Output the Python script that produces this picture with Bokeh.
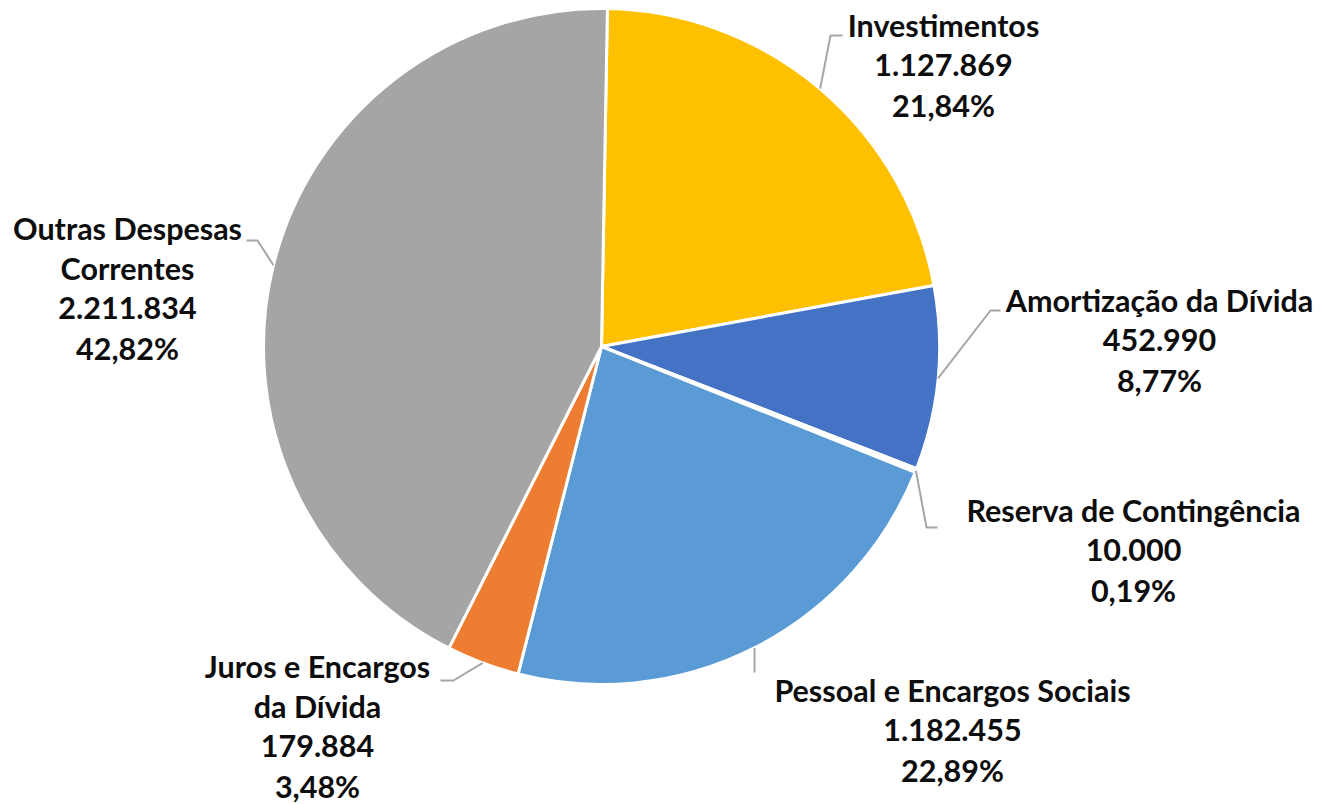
import math
from bokeh.plotting import figure
from bokeh.models import ColumnDataSource, Range1d
from bokeh.core.properties import value
from bokeh.embed import file_html
from bokeh.resources import INLINE

# ---------------- data ----------------
categories = ["Investimentos", "Amortização da Dívida", "Reserva de Contingência",
              "Pessoal e Encargos Sociais", "Juros e Encargos da Dívida",
              "Outras Despesas Correntes"]
category_lines = [["Investimentos"], ["Amortização da Dívida"], ["Reserva de Contingência"],
                  ["Pessoal e Encargos Sociais"], ["Juros e Encargos", "da Dívida"],
                  ["Outras Despesas", "Correntes"]]
values = [1127869, 452990, 10000, 1182455, 179884, 2211834]

# ---------------- style / layout ----------------
colors = ["#FFC000", "#4472C4", "#FFFFFF", "#5B9BD5", "#ED7D31", "#A5A5A5"]
W, H = 1320, 804
CX, CY, R = 601, 346, 338          # pixel-space pie centre and radius
FIRST_ANGLE = 1.0                  # degrees, clockwise from 12 o'clock
FONT = "Lato"
FONT_SIZE = "30.5px"
LINE_STEP = 40
TEXT_SHIFT = -11
# label block: (centre x, first baseline y) ; leader: elbow points in pixel space
label_pos = [(943, 35), (1159, 310), (1133, 520), (952, 700), (317, 676), (127, 238)]
leader_mid = [[(830, 35), (842, 35)],
              [(990, 310), (1000, 310)],
              [(926, 527), (937, 527)],
              [(754, 672)],
              [(453, 680), (440, 680)],
              [(257, 240), (246, 240)]]


def Y(py):
    return H - py


total = float(sum(values))
fracs = [v / total for v in values]

starts, ends, mids = [], [], []
acc = 0.0
for f in fracs:
    a0 = FIRST_ANGLE + acc * 360.0
    a1 = FIRST_ANGLE + (acc + f) * 360.0
    starts.append(math.radians(90.0 - a0))
    ends.append(math.radians(90.0 - a1))
    mids.append((a0 + a1) / 2.0)
    acc += f

p = figure(width=W, height=H, x_range=Range1d(0, W), y_range=Range1d(0, H),
           output_backend="svg", toolbar_location=None, min_border=0)
p.axis.visible = False
p.grid.visible = False
p.outline_line_color = None
p.background_fill_color = "white"
p.border_fill_color = "white"

src = ColumnDataSource(dict(cat=categories, start=starts, end=ends, color=colors))
p.wedge(x=CX, y=Y(CY), radius=R, start_angle="start", end_angle="end",
        direction="clock", fill_color="color", line_color="white", line_width=3,
        source=src)

# leader lines
xs, ys = [], []
for m, mid_pts in zip(mids, leader_mid):
    t = math.radians(m)
    ax = CX + R * math.sin(t)
    ay = CY - R * math.cos(t)
    pts = [(ax, ay)] + mid_pts
    xs.append([q[0] for q in pts])
    ys.append([Y(q[1]) for q in pts])
p.multi_line(xs=xs, ys=ys, line_color="#A6A6A6", line_width=2)

# labels
tx, ty, tt = [], [], []
for lines, v, f, (lx, ly) in zip(category_lines, values, fracs, label_pos):
    num = f"{v:,}".replace(",", ".")
    pct = f"{f * 100:.2f}".replace(".", ",") + "%"
    for i, s in enumerate(lines + [num, pct]):
        tx.append(lx)
        ty.append(Y(ly + TEXT_SHIFT + i * LINE_STEP))
        tt.append(s)
p.text(x=tx, y=ty, text=tt, text_align="center", text_baseline="alphabetic",
       text_font=value(FONT), text_font_style="bold", text_font_size=FONT_SIZE,
       text_color="#0D0D0D")

open("out.html", "w").write(file_html(p, INLINE))
